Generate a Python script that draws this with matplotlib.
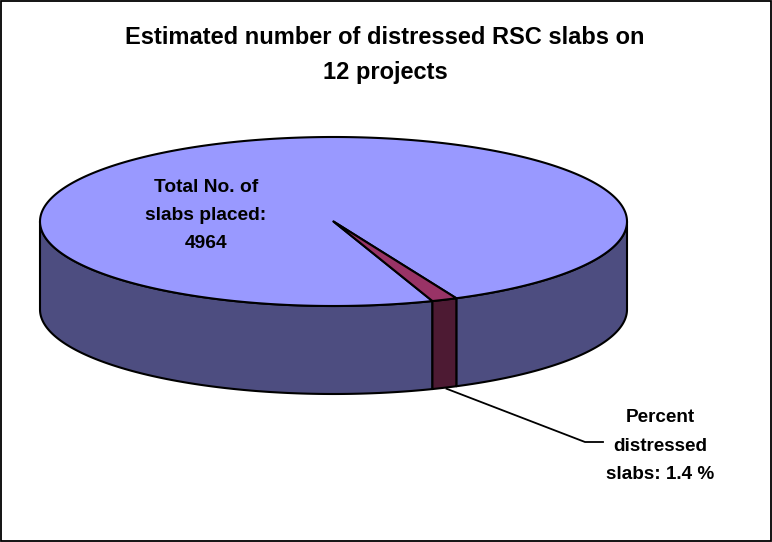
import numpy as np
import matplotlib
matplotlib.use("Agg")
import matplotlib.pyplot as plt
from matplotlib.patches import Polygon, Rectangle

# Data
categories = ["Total No. of\nslabs placed:\n4964", "Percent\ndistressed\nslabs: 1.4 %"]
percent_values = [98.6, 1.4]
title = "Estimated number of distressed RSC slabs on\n12 projects"

# Pie geometry, in pixels
cx, cy = 333.5, 221.5
rx, ry = 293.5, 84.5
depth = 88
start_angle = 19.7  # degrees from straight down, going counter clockwise

top_colors = ["#9999ff", "#993366"]
side_colors = ["#4d4d80", "#4d1a33"]

plt.rcParams["font.family"] = ["Liberation Sans", "DejaVu Sans"]

fig = plt.figure(figsize=(7.72, 5.42), dpi=100)
ax = fig.add_axes([0, 0, 1, 1])
ax.set_xlim(0, 772)
ax.set_ylim(542, 0)
ax.axis("off")


# position on the top ellipse, angle counted from straight down
def rim(angle):
    a = np.radians(angle)
    return cx + rx * np.sin(a), cy + ry * np.cos(a)


sweeps = [v / sum(percent_values) * 360 for v in percent_values]
slice_start = start_angle
slice_end = slice_start + sweeps[1]
big_start = slice_end
big_end = big_start + sweeps[0]


# Side walls first, only the front half of the rim shows
def draw_side(a0, a1, color):
    angles = np.linspace(a0, a1, 200)
    x, y = rim(angles)
    pts = np.vstack([np.column_stack([x, y]), np.column_stack([x, y + depth])[::-1]])
    ax.add_patch(Polygon(pts, closed=True, fc=color, ec="black", lw=1.5, joinstyle="round"))


draw_side(big_start, 90, side_colors[0])
draw_side(-90, slice_start, side_colors[0])
draw_side(slice_start, slice_end, side_colors[1])


# Top faces
def draw_top(a0, a1, color):
    angles = np.linspace(a0, a1, 400)
    x, y = rim(angles)
    pts = np.vstack([[cx, cy], np.column_stack([x, y])])
    ax.add_patch(Polygon(pts, closed=True, fc=color, ec="black", lw=1.5, joinstyle="round"))


draw_top(big_start, big_end, top_colors[0])
draw_top(slice_start, slice_end, top_colors[1])

# Leader line from the small slice to its label
mid_x, mid_y = rim((slice_start + slice_end) / 2)
ax.plot([mid_x + 2, 585, 603], [mid_y + depth + 1, 442, 442], color="black", lw=1.3,
        solid_joinstyle="miter")

# Text
ax.text(385, 79, title, ha="center", va="baseline", fontsize=17, fontweight="bold",
        linespacing=1.65)
ax.text(206, 248, categories[0], ha="center", va="baseline", fontsize=13.8, fontweight="bold",
        linespacing=1.85)
ax.text(660, 479, categories[1], ha="center", va="baseline", fontsize=13.6, fontweight="bold",
        linespacing=1.88)

# Chart frame
ax.add_patch(Rectangle((0.5, 0.5), 770, 540, fc="none", ec="black", lw=1.3))

fig.savefig("out.png", dpi=100)
